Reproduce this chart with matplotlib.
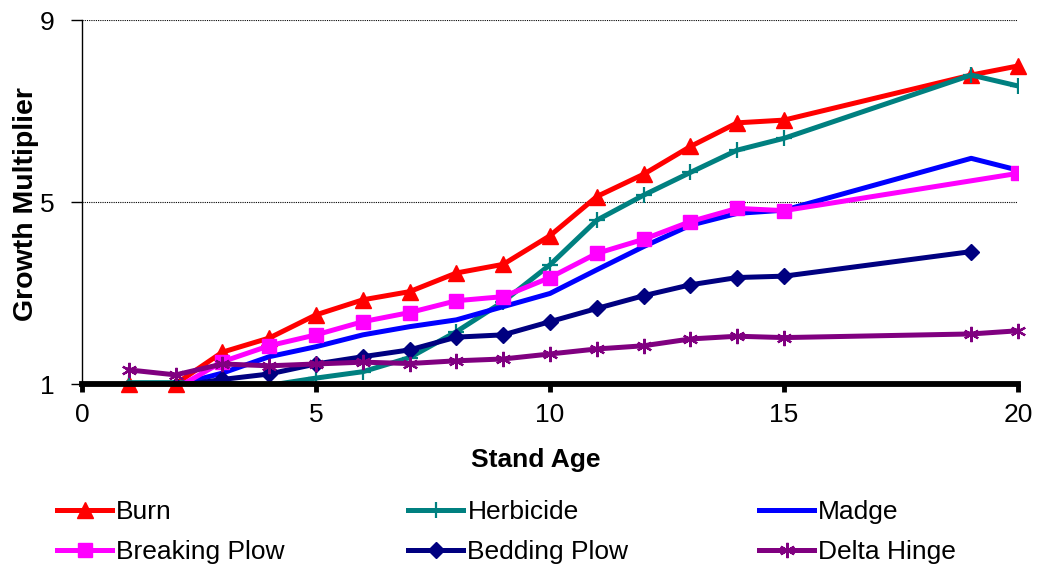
import numpy as np
import matplotlib.pyplot as plt

plt.rcParams['font.family'] = 'Liberation Sans'

nan = np.nan

# Stand age (years) and growth multiplier per site-prep treatment
AGE = [1, 2, 3, 4, 5, 6, 7, 8, 9, 10, 11, 12, 13, 14, 15, 19, 20]

BURN = [1.00, 1.00, 1.70, 2.01, 2.52, 2.85, 3.03, 3.44, 3.63, 4.26,
        5.12, 5.61, 6.22, 6.74, 6.80, 7.79, 7.99]
HERBICIDE = [1.03, 1.03, 1.02, 0.97, 1.13, 1.27, 1.58, 2.15, 2.81, 3.62,
             4.60, 5.15, 5.65, 6.14, 6.40, 7.79, 7.55]
MADGE = [nan, 0.97, 1.24, 1.60, 1.82, 2.08, 2.26, 2.41, 2.70, 2.99,
         3.51, 4.02, 4.49, 4.75, 4.82, 5.96, 5.70]
BREAKING_PLOW = [nan, 0.90, 1.49, 1.84, 2.08, 2.37, 2.57, 2.83, 2.92, 3.34,
                 3.87, 4.18, 4.57, 4.86, 4.81, nan, 5.63]
BEDDING_PLOW = [nan, 0.95, 1.10, 1.22, 1.44, 1.60, 1.75, 2.03, 2.08, 2.37,
                2.66, 2.94, 3.18, 3.34, 3.37, 3.91, nan]
DELTA_HINGE = [1.31, 1.20, 1.44, 1.40, 1.44, 1.48, 1.45, 1.51, 1.55, 1.66,
               1.77, 1.84, 1.99, 2.05, 2.02, 2.10, 2.17]

X_TICKS = [0, 5, 10, 15, 20]
Y_TICKS = [1, 5, 9]

ASTERISK = (6, 2, 0)

SERIES = [
    ('Burn', BURN, dict(color='#FF0000', marker='^', ms=12)),
    ('Herbicide', HERBICIDE, dict(color='#008080', marker='+', ms=11, mew=1.6)),
    ('Madge', MADGE, dict(color='#0000FF', marker='None')),
    ('Breaking Plow', BREAKING_PLOW, dict(color='#FF00FF', marker='s', ms=10)),
    ('Bedding Plow', BEDDING_PLOW, dict(color='#000080', marker='D', ms=8.5)),
    ('Delta Hinge', DELTA_HINGE, dict(color='#800080', marker=ASTERISK, ms=11, mew=1.6)),
]

W, H = 1039, 571
fig = plt.figure(figsize=(W / 100, H / 100), dpi=100)
ax = fig.add_axes([82 / W, 187 / H, 936 / W, 364 / H])

age = np.array(AGE, dtype=float)
handles = []
for name, vals, style in SERIES:
    vals = np.array(vals, dtype=float)
    ok = ~np.isnan(vals)
    # values at or above the axis floor keep their markers visible
    clip = np.nanmin(vals) < 0.99
    line, = ax.plot(age[ok], vals[ok], lw=3.6, label=name, clip_on=clip,
                    solid_joinstyle='round', **style)
    handles.append(line)

ax.set_xlim(0, 20)
ax.set_ylim(1, 9)
ax.set_xticks(X_TICKS)
ax.set_yticks(Y_TICKS)

ax.yaxis.grid(True, color='black', linestyle=(0, (1, 1)), linewidth=0.8)
ax.set_axisbelow(True)

for side in ('top', 'right'):
    ax.spines[side].set_visible(False)
ax.spines['left'].set_linewidth(1.0)
ax.spines['bottom'].set_linewidth(4.2)
ax.spines['bottom'].set_zorder(5)

ax.tick_params(axis='y', direction='out', length=8, width=1, labelsize=19, pad=12)
ax.tick_params(axis='x', direction='out', length=6, width=3.5, labelsize=19, pad=8)

ax.set_xlabel('Stand Age', fontsize=19, fontweight='bold')
ax.xaxis.set_label_coords(0.485, -0.175)
ax.set_ylabel('Growth Multiplier', fontsize=20.5, fontweight='bold')
ax.yaxis.set_label_coords(-0.046, 0.495)

# legend laid out as three equal-width columns below the plot
col_x = [57, 408, 759]
for i, x0 in enumerate(col_x):
    hs = [handles[i], handles[i + 3]]
    fig.legend(hs, [h.get_label() for h in hs], loc='center left',
               bbox_to_anchor=(x0 / W, 1 - 532 / H), frameon=False,
               fontsize=19, handlelength=2.1, handletextpad=0.15,
               labelspacing=0.62, borderpad=0, borderaxespad=0,
               numpoints=1)

fig.savefig('out.png', dpi=100)
